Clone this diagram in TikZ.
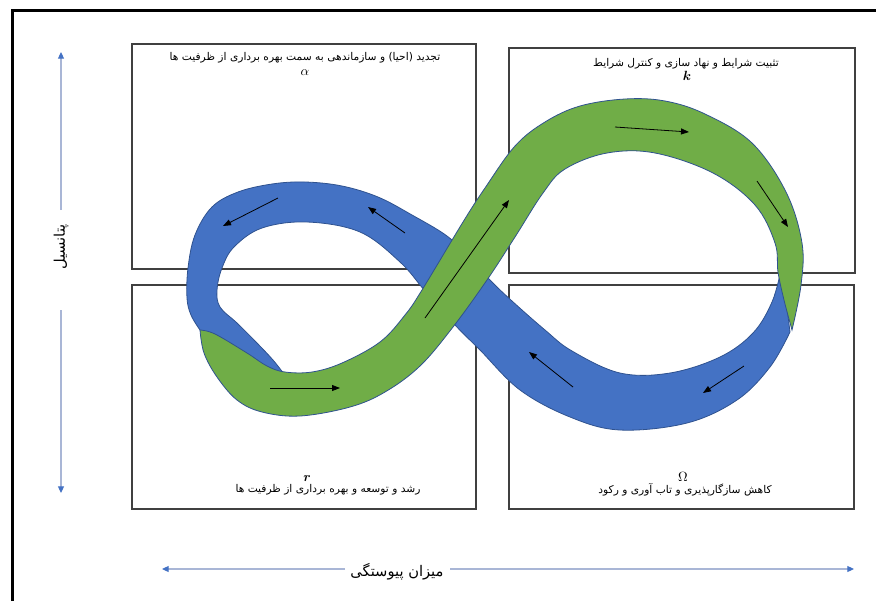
\documentclass[tikz,border=0pt]{standalone}
\usepackage{amsmath}
\usepackage{fontspec}
\newfontfamily\arabicfont[Script=Arabic]{DejaVu Sans}
\TeXXeTstate=1
\usetikzlibrary{arrows.meta}
\definecolor{loopblue}{HTML}{4472C4}
\definecolor{loopgreen}{HTML}{70AD47}
\definecolor{rimblue}{HTML}{2F528F}
\definecolor{axisgray}{HTML}{A9B6D6}
\definecolor{quadgray}{gray}{0.25}

\begin{document}
\begin{tikzpicture}[x=0.75pt,y=-0.75pt,
    line cap=butt, line join=miter,
    every node/.style={inner sep=0pt,outer sep=0pt},
    quad/.style={draw=quadgray,line width=0.9pt},
    band/.style={draw=rimblue,line width=0.6pt},
    flow/.style={line width=0.6pt,-{Triangle[length=6pt,width=4.5pt]}},
    axistip/.style={draw=axisgray,line width=0.8pt,
      -{Triangle[length=5pt,width=4.5pt,color=loopblue]}},
    lab/.style={font=\arabicfont\fontsize{8}{10}\selectfont},
    axlab/.style={font=\arabicfont\fontsize{11}{13}\selectfont}]
  \useasboundingbox (0,0) rectangle (876,601);
  % ---- frame ----
  \draw[line width=2.2pt] (12.5,601) -- (12.5,10.5) -- (876,10.5);
  % ---- quadrants ----
  \draw[quad] (132,44)  rectangle (476,269);
  \draw[quad] (509,48)  rectangle (855,273);
  \draw[quad] (132,285) rectangle (476,509);
  \draw[quad] (509,285) rectangle (854,509);
  % ---- blue band (drawn first, green passes over it) ----
  \filldraw[band,fill=loopblue]
    plot[smooth,tension=0.6] coordinates {(200,330) (191,315) (187,298) (188,268) (195,235)
      (212,207) (238,192) (272,184) (305,182) (342,186) (378,197) (412,215) (447,236)
      (470,258) (490,280) (512,301) (545,330) (572,351) (620,373) (670,373) (720,357)
      (753,333) (772,302) (781,270)}
    -- (786,300) -- (790,332)
    -- plot[smooth,tension=0.6] coordinates {(790,332) (770,367) (737,400) (687,423)
      (620,430) (570,417) (520,390) (480,350) (455,325) (425,291) (400,262) (360,232)
      (307,222) (262,228) (234,247) (222,268) (217,290) (220,307) (237,323) (257,343)
      (273,360) (284,374)}
    -- (245,366) -- (206,342) -- cycle;
  % ---- green band ----
  \filldraw[band,fill=loopgreen]
    plot[smooth,tension=0.6] coordinates {(200,330) (215,334) (247,353) (267,366) (285,372)
      (312,372) (342,363) (380,342) (405,315) (422,290) (463,222) (485,188) (515,146)
      (545,122) (580,106) (625,99) (665,101) (705,114) (752,143) (786,192) (802,243)
      (801,285) (792,330)}
    -- plot[smooth,tension=0.6] coordinates {(792,330) (784,300) (778,272) (775,243)
      (755,205) (713,173) (655,153) (607,153) (565,169) (543,193) (515,237) (487,280)
      (453,327) (420,366) (385,392) (350,407) (300,416) (262,412) (237,400) (217,377)
      (204,353) (200,330)} -- cycle;
  % ---- flow arrows ----
  \coordinate (f1s) at (278,198); \coordinate (f1e) at (223,226);
  \coordinate (f2s) at (405,233); \coordinate (f2e) at (368,207);
  \coordinate (f3s) at (425,318); \coordinate (f3e) at (509,200);
  \coordinate (f4s) at (270,388); \coordinate (f4e) at (340,388);
  \coordinate (f5s) at (615,127); \coordinate (f5e) at (689,132);
  \coordinate (f6s) at (757,181); \coordinate (f6e) at (788,227);
  \coordinate (f7s) at (744,366); \coordinate (f7e) at (703,393);
  \coordinate (f8s) at (573,387); \coordinate (f8e) at (529,352);
  \foreach \k in {1,...,8} \draw[flow] (f\k s) -- (f\k e);
  % ---- quadrant labels ----
  \node[lab] (alphaTxt) at (305,58) {\beginR تجدید (احیا) و سازماندهی به سمت بهره برداری از ظرفیت ها\endR};
  \node (alphaSym) at (305,73) {$\alpha$};
  \node[lab] (kTxt) at (686,64) {\beginR تثبیت شرایط و نهاد سازی و کنترل شرایط\endR};
  \node (kSym) at (687,76) {$\boldsymbol{k}$};
  \node (rSym) at (307,479) {$\boldsymbol{r}$};
  \node[lab] (rTxt) at (328,490) {\beginR رشد و توسعه و بهره برداری از ظرفیت ها\endR};
  \node (omegaSym) at (683,477) {$\Omega$};
  \node[lab] (omegaTxt) at (685,490) {\beginR کاهش سازگارپذیری و تاب آوری و رکود\endR};
  % ---- axes ----
  \node[axlab,rotate=90] (potLab) at (61,247) {\beginR پتانسیل\endR};
  \node[axlab] (conLab) at (397,572) {\beginR میزان پیوستگی\endR};
  \coordinate (vTop) at (61,52);  \coordinate (vBot) at (61,493);
  \coordinate (hLft) at (162,569); \coordinate (hRgt) at (854,569);
  \draw[axistip] (61,210) -- (vTop);
  \draw[axistip] (61,310) -- (vBot);
  \draw[axistip] (345,569) -- (hLft);
  \draw[axistip] (450,569) -- (hRgt);
\end{tikzpicture}
\end{document}
